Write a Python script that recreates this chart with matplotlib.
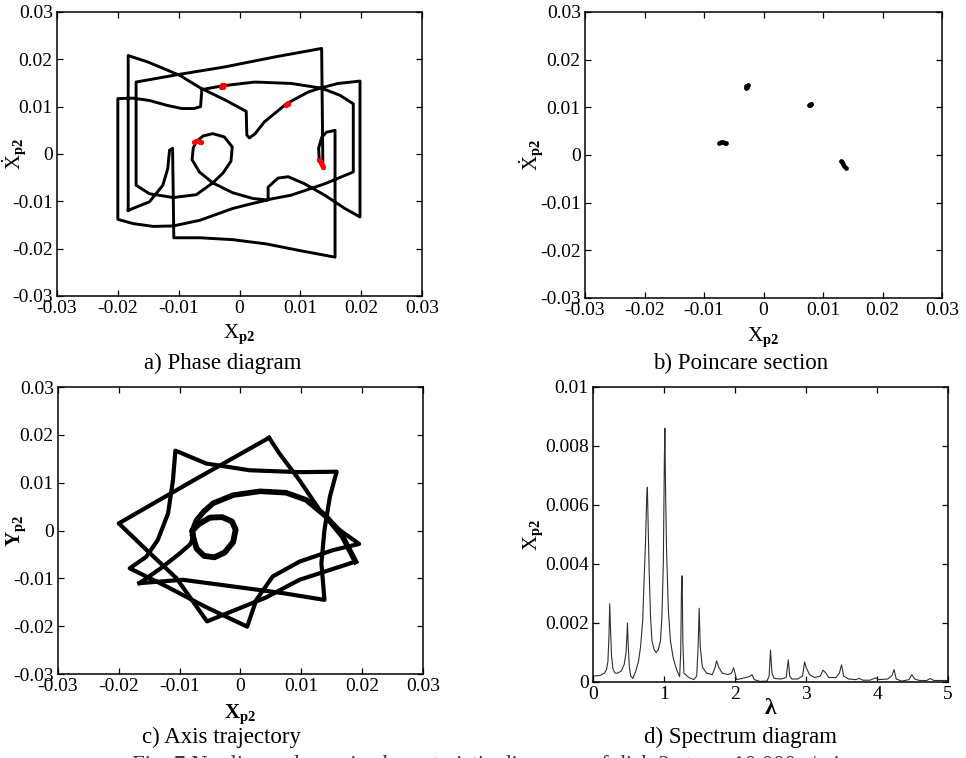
import matplotlib
matplotlib.use('Agg')
import matplotlib.pyplot as plt

plt.rcParams['font.family'] = ['Liberation Serif', 'DejaVu Serif']
plt.rcParams['mathtext.fontset'] = 'custom'
plt.rcParams['mathtext.rm'] = 'Liberation Serif'
plt.rcParams['mathtext.it'] = 'Liberation Serif:italic'
plt.rcParams['mathtext.bf'] = 'Liberation Serif:bold'
plt.rcParams['axes.unicode_minus'] = False

# ---- data ----
# a) phase diagram, one closed orbit (x_p2, dx_p2/dt)
phase_x = [-0.0183, -0.0183, -0.0150, -0.0098, -0.0065, -0.0022, 0.0011, 0.0012, 0.0016, 0.0025,
           0.0041, 0.0077, 0.0113, 0.0135, 0.0162, 0.0198, 0.0198, 0.0173, 0.0140, 0.0107,
           0.0080, 0.0063, 0.0047, 0.0047, 0.0020, -0.0011, -0.0065, -0.0109, -0.0142, -0.0175,
           -0.0200, -0.0200, -0.0175, -0.0148, -0.0120, -0.0095, -0.0075, -0.0064, -0.0062, -0.0028,
           0.0025, 0.0085, 0.0135, 0.0165, 0.0187, 0.0187, 0.0140, 0.0085, 0.0044, 0.0022,
           -0.0011, -0.0044, -0.0066, -0.0078, -0.0076, -0.0071, -0.0060, -0.0044, -0.0025, -0.0012,
           -0.0014, -0.0027, -0.0044, -0.0071, -0.0109, -0.0148, -0.0170, -0.0170, -0.0100, -0.0024,
           0.0058, 0.0135, 0.0137, 0.0131, 0.0130, 0.0135, 0.0143, 0.0157, 0.0157, 0.0099,
           0.0044, -0.0011, -0.0065, -0.0108, -0.0110, -0.0115, -0.0118, -0.0126, -0.0148, -0.0183]
phase_y = [-0.0119, 0.0208, 0.0194, 0.0166, 0.0140, 0.0113, 0.0090, 0.0040, 0.0034, 0.0042,
           0.0068, 0.0106, 0.0131, 0.0140, 0.0149, 0.0154, -0.0133, -0.0115, -0.0087, -0.0063,
           -0.0048, -0.0051, -0.0070, -0.0097, -0.0105, -0.0115, -0.0140, -0.0152, -0.0153, -0.0147,
           -0.0138, 0.0117, 0.0118, 0.0113, 0.0103, 0.0096, 0.0096, 0.0100, 0.0136, 0.0144,
           0.0152, 0.0149, 0.0139, 0.0124, 0.0106, -0.0038, -0.0063, -0.0087, -0.0097, -0.0094,
           -0.0082, -0.0061, -0.0038, -0.0012, 0.0013, 0.0026, 0.0038, 0.0043, 0.0036, 0.0015,
           -0.0015, -0.0040, -0.0061, -0.0086, -0.0092, -0.0084, -0.0066, 0.0152, 0.0168, 0.0184,
           0.0205, 0.0223, -0.0027, -0.0012, 0.0012, 0.0035, 0.0046, 0.0050, -0.0218, -0.0204,
           -0.0190, -0.0181, -0.0177, -0.0177, 0.0012, 0.0008, -0.0031, -0.0066, -0.0101, -0.0119]

# b) Poincare section points (four clusters)
pc_x = [-0.0030, -0.0028, -0.0026, -0.0029, -0.0027, 0.0077, 0.0079, 0.0080, 0.0078,
        -0.0074, -0.0071, -0.0068, -0.0065, -0.0063, 0.0130, 0.0132, 0.0134, 0.0136, 0.0138]
pc_y = [0.0141, 0.0143, 0.0146, 0.0145, 0.0142, 0.0104, 0.0106, 0.0107, 0.0105,
        0.0026, 0.0027, 0.0027, 0.0026, 0.0026, -0.0012, -0.0015, -0.0019, -0.0023, -0.0027]

# c) axis trajectory: star chords, thick inner arc and small loop
orbit_x = [0.0047, -0.0077, -0.0200, -0.0155, -0.0105, -0.0055, 0.0042, 0.0097, 0.0189]
orbit_y = [0.0194, 0.0105, 0.0015, -0.0040, -0.0100, -0.0190, -0.0140, -0.0103, -0.0065]
feed_x = [-0.0166, -0.0130, -0.0100, -0.0082, -0.0078]
feed_y = [-0.0110, -0.0078, -0.0048, -0.0028, -0.0013]
star_x = [-0.0166, -0.0095, -0.0012, 0.0070, 0.0138, 0.0133, 0.0138, 0.0147, 0.0158,
          0.0098, 0.0015, -0.0056, -0.0107, -0.0111, -0.0119, -0.0136, -0.0155, -0.0182,
          -0.0120, -0.0060, 0.0011, 0.0026, 0.0053, 0.0097, 0.0152, 0.0195, 0.0163, 0.0130,
          0.0097, 0.0064, 0.0047]
star_y = [-0.0110, -0.0103, -0.0117, -0.0131, -0.0145, -0.0068, 0.0001, 0.0071, 0.0123,
          0.0122, 0.0126, 0.0140, 0.0167, 0.0105, 0.0036, -0.0020, -0.0055, -0.0079,
          -0.0118, -0.0158, -0.0201, -0.0145, -0.0096, -0.0065, -0.0041, -0.0028, 0.0001, 0.0043,
          0.0105, 0.0161, 0.0194]
loop_x = [-0.0078, -0.0072, -0.0060, -0.0043, -0.0026, -0.0012, -0.0008, -0.0014, -0.0030,
          -0.0050, -0.0068, -0.0079, -0.0078]
loop_y = [-0.0013, -0.0038, -0.0053, -0.0056, -0.0046, -0.0024, 0.0002, 0.0019, 0.0028,
          0.0027, 0.0014, 0.0000, -0.0013]
arc_x = [-0.0079, -0.0072, -0.0060, -0.0045, -0.0012, 0.0032, 0.0075, 0.0108, 0.0141, 0.0168, 0.0189]
arc_y = [0.0000, 0.0022, 0.0040, 0.0057, 0.0074, 0.0082, 0.0079, 0.0064, 0.0029, -0.0013, -0.0065]

# d) spectrum
lam = [0.00, 0.10, 0.16, 0.19, 0.21, 0.225, 0.235, 0.245, 0.26, 0.28, 0.31, 0.35, 0.40, 0.44,
       0.465, 0.478, 0.485, 0.495, 0.51, 0.53, 0.56, 0.60, 0.64, 0.67, 0.70, 0.72, 0.74, 0.755,
       0.765, 0.775, 0.79, 0.81, 0.83, 0.86, 0.89, 0.92, 0.95, 0.97, 0.99, 1.005, 1.012, 1.02,
       1.035, 1.06, 1.09, 1.13, 1.18, 1.22, 1.235, 1.245, 1.255, 1.265, 1.28, 1.35, 1.42, 1.46,
       1.48, 1.495, 1.51, 1.54, 1.60, 1.68, 1.72, 1.74, 1.77, 1.82, 1.90, 1.95, 1.98, 2.00, 2.02,
       2.10, 2.20, 2.24, 2.27, 2.35, 2.45, 2.48, 2.50, 2.52, 2.55, 2.65, 2.72, 2.75, 2.77, 2.80,
       2.88, 2.95, 2.98, 3.00, 3.05, 3.12, 3.20, 3.24, 3.28, 3.32, 3.42, 3.47, 3.50, 3.53, 3.60,
       3.70, 3.75, 3.80, 3.90, 3.98, 4.02, 4.15, 4.21, 4.24, 4.27, 4.35, 4.45, 4.49, 4.53, 4.60,
       4.70, 4.75, 4.80, 4.90, 5.00]
amp = [0.00020, 0.00022, 0.00030, 0.00042, 0.00070, 0.0016, 0.00265, 0.0019, 0.0009, 0.00045,
       0.00030, 0.00030, 0.00038, 0.00060, 0.0010, 0.0016, 0.0020, 0.0013, 0.00055, 0.00020,
       0.00012, 0.00035, 0.0007, 0.0012, 0.0021, 0.0035, 0.0048, 0.0062, 0.0066, 0.0055, 0.0038,
       0.0022, 0.0014, 0.0011, 0.0010, 0.0011, 0.0014, 0.0022, 0.0040, 0.0076, 0.0086, 0.0068,
       0.0045, 0.0025, 0.0014, 0.0008, 0.0004, 0.00018, 0.0010, 0.0030, 0.0036, 0.0014, 0.0003,
       0.00015, 0.00008, 0.0002, 0.0012, 0.0025, 0.0012, 0.0005, 0.0003, 0.00025, 0.0005, 0.00072,
       0.0005, 0.0003, 0.00025, 0.0003, 0.00048, 0.00030, 0.00008, 0.00012, 0.00018, 0.00025,
       0.00008, 0.00002, 0.00003, 0.0002, 0.00108, 0.0003, 0.00012, 0.0001, 0.00015, 0.00075,
       0.0002, 0.0001, 0.0001, 0.0002, 0.00068, 0.0005, 0.00025, 0.00015, 0.0002, 0.0004, 0.0003,
       0.00015, 0.00015, 0.0003, 0.00058, 0.0002, 0.0001, 0.00008, 0.00012, 0.00006, 0.00006,
       0.00014, 0.00008, 0.0001, 0.00022, 0.00042, 0.0001, 0.00003, 0.00008, 0.00025, 0.0001,
       0.00005, 0.00005, 0.00012, 0.00005, 0.00005, 0.00005]

ticks_xy = [-0.03, -0.02, -0.01, 0, 0.01, 0.02, 0.03]
tick_lbl_xy = ['-0.03', '-0.02', '-0.01', '0', '0.01', '0.02', '0.03']
spec_yticks = [0, 0.002, 0.004, 0.006, 0.008, 0.01]
spec_ylbl = ['0', '0.002', '0.004', '0.006', '0.008', '0.01']


def style(ax):
    for s in ax.spines.values():
        s.set_linewidth(1.1)
    ax.tick_params(direction='in', top=True, right=True, length=4.5, width=0.9,
                   labelsize=14, pad=3)


def square_axes(ax):
    ax.set_xlim(-0.03, 0.03)
    ax.set_ylim(-0.03, 0.03)
    ax.set_xticks(ticks_xy)
    ax.set_xticklabels(tick_lbl_xy)
    ax.set_yticks(ticks_xy)
    ax.set_yticklabels(tick_lbl_xy)
    style(ax)


fig = plt.figure(figsize=(9.66, 7.58), dpi=100)
ax1 = fig.add_axes([0.0590, 0.6095, 0.3779, 0.3747])
ax2 = fig.add_axes([0.6056, 0.6069, 0.3696, 0.3773])
ax3 = fig.add_axes([0.0600, 0.1108, 0.3779, 0.3786])
ax4 = fig.add_axes([0.6139, 0.1003, 0.3675, 0.3892])

# a) 相图
ax1.plot(phase_x, phase_y, color='black', linewidth=2.1, solid_joinstyle='round')
ax1.plot(pc_x, pc_y, 'o', color='red', markersize=3.8, markeredgewidth=0)
square_axes(ax1)
ax1.set_xlabel(r'$\mathrm{X}_{\mathbf{p2}}$', fontsize=15, va='top')
ax1.xaxis.set_label_coords(0.5, -0.095)
ax1.set_ylabel(r'$\dot{\mathrm{X}}_{\mathbf{p2}}$', fontsize=15)
ax1.yaxis.set_label_coords(-0.078, 0.5)

# b) Poincare
ax2.plot(pc_x, pc_y, 'o', color='black', markersize=3.4, markeredgewidth=0)
square_axes(ax2)
ax2.set_xlabel(r'$\mathrm{X}_{\mathbf{p2}}$', fontsize=15, va='top')
ax2.xaxis.set_label_coords(0.5, -0.095)
ax2.set_ylabel(r'$\dot{\mathrm{X}}_{\mathbf{p2}}$', fontsize=15)
ax2.yaxis.set_label_coords(-0.11, 0.5)

# c) axis trajectory
ax3.plot(orbit_x, orbit_y, color='black', linewidth=3.0)
ax3.plot(star_x, star_y, color='black', linewidth=3.0)
ax3.plot(feed_x, feed_y, color='black', linewidth=3.0)
ax3.plot(loop_x, loop_y, color='black', linewidth=4.2)
ax3.plot(arc_x, arc_y, color='black', linewidth=4.0)
square_axes(ax3)
ax3.set_xlabel(r'$\mathbf{X}_{\mathbf{p2}}$', fontsize=15, va='top')
ax3.xaxis.set_label_coords(0.5, -0.1)
ax3.set_ylabel(r'$\mathbf{Y}_{\mathbf{p2}}$', fontsize=15)
ax3.yaxis.set_label_coords(-0.083, 0.5)

# d) spectrum
ax4.plot(lam, amp, color='#303030', linewidth=0.8)
ax4.set_xlim(0, 5)
ax4.set_ylim(0, 0.01)
ax4.set_xticks([0, 1, 2, 3, 4, 5])
ax4.set_yticks(spec_yticks)
ax4.set_yticklabels(spec_ylbl)
style(ax4)
ax4.set_xlabel('λ', fontsize=17, fontweight='bold', va='top')
ax4.xaxis.set_label_coords(0.5, -0.055)
ax4.set_ylabel(r'$\mathrm{X}_{\mathbf{p2}}$', fontsize=15)
ax4.yaxis.set_label_coords(-0.134, 0.5)

# captions
fig.text(223 / 966, 1 - 369 / 758, 'a) Phase diagram', fontsize=16.5, ha='center', va='baseline')
fig.text(741 / 966, 1 - 369 / 758, 'b) Poincare section', fontsize=16.5, ha='center', va='baseline')
fig.text(222 / 966, 1 - 743 / 758, 'c) Axis trajectory', fontsize=16.5, ha='center', va='baseline')
fig.text(741 / 966, 1 - 743 / 758, 'd) Spectrum diagram', fontsize=16.5, ha='center', va='baseline')
fig.text(492 / 966, 1 - 771 / 758,
         'Fig. 7 Nonlinear dynamic characteristic diagrams of disk 2 at n = 10 000 r/min',
         fontsize=16.5, ha='center', va='baseline', color='#333333')

fig.savefig('out.png', dpi=100)
plt.close(fig)
